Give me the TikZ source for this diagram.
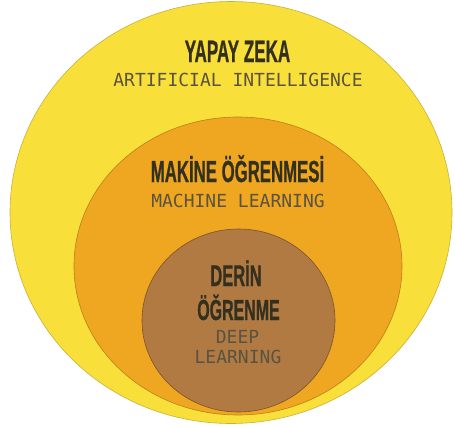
\documentclass[tikz,border=0pt]{standalone}
\usepackage{fontspec}
\usepackage{tikz}
\usetikzlibrary{positioning}

\newfontfamily\headfont[FakeStretch=0.55, FakeBold=0.6]{Liberation Sans Bold}
\newfontfamily\subfont{DejaVu Sans Mono}

\definecolor{aiyellow}{HTML}{F9DF3A}
\definecolor{aiedge}{HTML}{C9B03A}
\definecolor{mlorange}{HTML}{EFA621}
\definecolor{mledge}{HTML}{B8801C}
\definecolor{dlbrown}{HTML}{B07A42}
\definecolor{dledge}{HTML}{7A5428}
\definecolor{headtext}{HTML}{33301F}
\definecolor{subtext}{HTML}{5A5242}

\begin{document}
\begin{tikzpicture}[
    x=1pt, y=-1pt,
    zone/.style={line width=0.6pt},
    title/.style={anchor=base, inner sep=0pt, text=headtext, font=\headfont\fontsize{31}{31}\selectfont},
    subtitle/.style={anchor=base, inner sep=0pt, text=subtext, font=\subfont\fontsize{18}{18}\selectfont}
]
\useasboundingbox (0,0) rectangle (455,426);

% --- nested areas ---
\filldraw[zone, fill=aiyellow, draw=aiedge] (231,212.5) ellipse [x radius=221, y radius=211];
\filldraw[zone, fill=mlorange, draw=mledge] (238,266) ellipse [x radius=164, y radius=149];
\filldraw[zone, fill=dlbrown, draw=dledge] (238.5,320.5) ellipse [x radius=96.5, y radius=91.5];

% --- labels ---
\node[title] (ai) at (237.5,62) {YAPAY ZEKA};
\node[subtitle] (aien) at (238,86) {ARTIFICIAL INTELLIGENCE};

\node[title, font=\headfont\fontsize{30.5}{30.5}\selectfont] (ml) at (237.5,182) {MAKİNE ÖĞRENMESİ};
\node[subtitle] (mlen) at (238,207) {MACHINE LEARNING};

\node[title, font=\headfont\fontsize{30}{30}\selectfont] (dl) at (236,286) {DERİN};
\node[title, font=\headfont\fontsize{29}{29}\selectfont] (dltwo) at (238.5,320) {ÖĞRENME};
\node[subtitle] (dlen) at (237.5,343) {DEEP};
\node[subtitle] (dlentwo) at (238,363) {LEARNING};

\end{tikzpicture}
\end{document}
